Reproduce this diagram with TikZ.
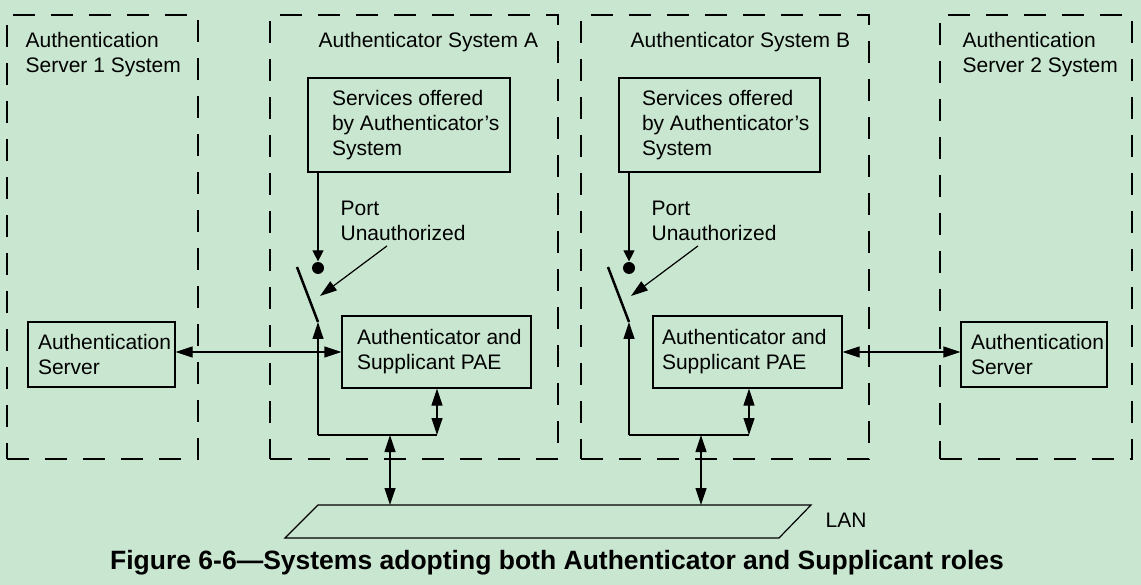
\documentclass[tikz,border=0pt]{standalone}
\usepackage{fontspec}
\setmainfont{Liberation Sans}
\usetikzlibrary{arrows.meta, calc}
\definecolor{paper}{HTML}{C9E7D0}

\begin{document}
\begin{tikzpicture}[x=1pt, y=-1pt, line width=1.2pt, >={Triangle[length=17pt, width=11pt]},
      every node/.style={font=\fontsize{21}{25}\selectfont, inner sep=0pt},
      sys/.style={draw, line width=1.1pt, dash pattern=on 22pt off 16pt, minimum height=444pt},
      b/.style={draw},
      t/.style={anchor=west, align=left},
      dot/.style={circle, fill, minimum size=12pt}]
    \fill[paper] (0,0) rectangle (1141,585);
    \useasboundingbox (0,0) rectangle (1141,585);
    \node[sys, minimum width=191pt] (s1) at (102.5,237) {};
    \node[sys, minimum width=288pt] (sa) at (414,237) {};
    \node[sys, minimum width=288pt] (sb) at (725,237) {};
    \node[sys, minimum width=192pt] (s2) at (1036,237) {};
    \node[t] (s1t) at (25,54.5) {Authentication\\Server 1 System};
    \node[t] (sat) at (318,42) {Authenticator System A};
    \node[t] (sbt) at (630,42) {Authenticator System B};
    \node[t] (s2t) at (962,54.5) {Authentication\\Server 2 System};

    \node[b, minimum width=202pt, minimum height=94pt] (svca) at (409,125) {};
    \node[t] (svcat) at ([xshift=24pt]svca.west) {Services offered\\by Authenticator's\\System};
    \node[b, minimum width=201pt, minimum height=94pt] (svcb) at (719.5,125) {};
    \node[t] (svcbt) at ([xshift=23pt]svcb.west) {Services offered\\by Authenticator's\\System};

    \node[b, minimum width=189pt, minimum height=72pt] (paea) at (436.5,352) {};
    \node[t] (paeat) at ([xshift=15pt]paea.west) {Authenticator and\\Supplicant PAE};
    \node[b, minimum width=189pt, minimum height=72pt] (paeb) at (747.5,352) {};
    \node[t] (paebt) at ([xshift=9pt]paeb.west) {Authenticator and\\Supplicant PAE};

    \node[b, minimum width=147pt, minimum height=65pt] (srv1) at (101.5,354.5) {};
    \node[t] (srv1t) at ([xshift=10pt]srv1.west) {Authentication\\Server};
    \node[b, minimum width=146pt, minimum height=65pt] (srv2) at (1034,354.5) {};
    \node[t] (srv2t) at ([xshift=10pt]srv2.west) {Authentication\\Server};

    \node[t] (porta) at (340,220.5) {Port\\Unauthorized};
    \node[t] (portb) at (651,220.5) {Port\\Unauthorized};
    \node[dot] (dota) at (318,268) {};
    \node[dot] (dotb) at (629,268) {};

    \coordinate (hingea) at (318,322); \coordinate (topa) at (297,267);
    \coordinate (corna) at (318,435); \coordinate (teea) at (437,435); \coordinate (busa) at (390,435);
    \coordinate (hingeb) at (629,322); \coordinate (topb) at (608,267);
    \coordinate (cornb) at (629,435); \coordinate (teeb) at (749,435); \coordinate (busb) at (701,435);
    \coordinate (pointa) at (320,296); \coordinate (pointb) at (631,296);
    \coordinate (lantop) at (318,505);

    \draw (285,538) -- (lantop) -- (811,505) -- (779,538) -- cycle;
    \node[anchor=west] (lan) at (825,520) {LAN};

    \draw[-{Triangle[length=11pt, width=11pt]}] (svca.south -| dota) -- (dota.north);
    \draw[-{Triangle[length=11pt, width=11pt]}] (svcb.south -| dotb) -- (dotb.north);
    \draw[line width=2.5pt] (topa) -- (hingea); \draw[line width=2.5pt] (topb) -- (hingeb);
    \draw[->] (corna) -- (hingea); \draw[->] (cornb) -- (hingeb);
    \draw (corna) -- (teea); \draw (cornb) -- (teeb);
    \draw[<->] (paea.south -| teea) -- (teea); \draw[<->] (paeb.south -| teeb) -- (teeb);
    \draw[<->] (busa) -- (busa |- lantop); \draw[<->] (busb) -- (busb |- lantop);
    \draw[->] ([xshift=47pt, yshift=-5pt]porta.south west) -- (pointa);
    \draw[->] ([xshift=47pt, yshift=-5pt]portb.south west) -- (pointb);
    \draw[<->] (paea.west -| srv1.east) -- (paea.west);
    \draw[<->] (paeb.east) -- (paeb.east -| srv2.west);

    \node[font=\fontsize{26.5}{30}\selectfont\bfseries] (cap) at (557,563) {Figure 6-6---Systems adopting both Authenticator and Supplicant roles};
  \end{tikzpicture}
\end{document}
